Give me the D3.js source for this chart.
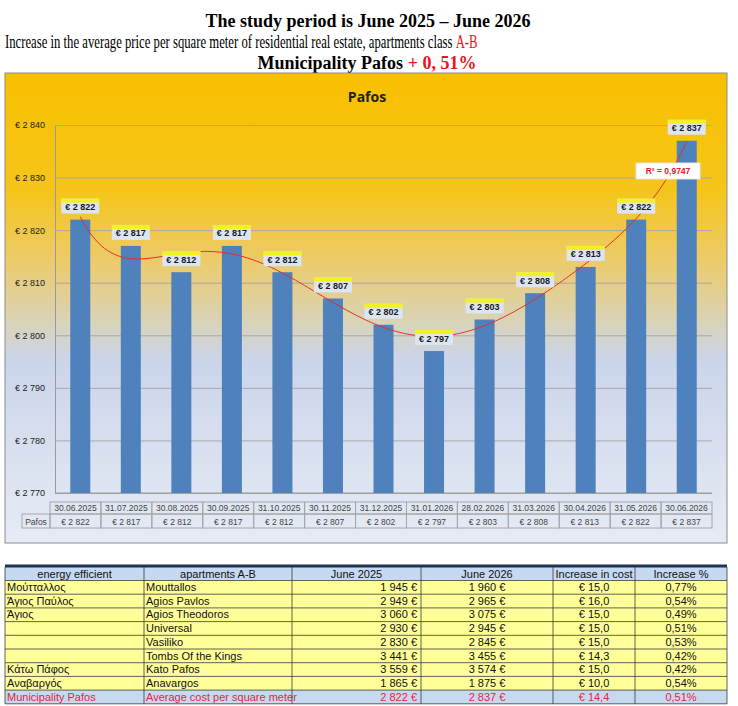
<!DOCTYPE html>
<html>
<head>
<meta charset="utf-8">
<script src="https://cdn.jsdelivr.net/npm/d3@7"></script>
<style>
  body { margin: 0; background: #fff; }
  svg { display: block; }
</style>
</head>
<body>
<div id="chart"></div>
<script>
// chart values
const dates = ["30.06.2025", "31.07.2025", "30.08.2025", "30.09.2025", "31.10.2025", "30.11.2025",
  "31.12.2025", "31.01.2026", "28.02.2026", "31.03.2026", "30.04.2026", "31.05.2026", "30.06.2026"];
const prices = [2822, 2817, 2812, 2817, 2812, 2807, 2802, 2797, 2803, 2808, 2813, 2822, 2837];
const yDomain = [2770, 2840];
const trendOrder = 6;
const rSquaredText = "R² = 0,9747";

// table values
const tableHeader = ["energy efficient", "apartments A-B", "June 2025", "June 2026", "Increase in cost", "Increase %"];
const areaGreek = ["Μούτταλλος", "Άγιος Παύλος", "Άγιος", "", "", "", "Κάτω Πάφος", "Αναβαργός", "Municipality Pafos"];
const areaLatin = ["Mouttallos", "Agios Pavlos", "Agios Theodoros", "Universal", "Vasiliko", "Tombs Of the Kings",
  "Kato Pafos", "Anavargos", "Average cost per square meter"];
const june2025 = [1945, 2949, 3060, 2930, 2830, 3441, 3559, 1865, 2822];
const june2026 = [1960, 2965, 3075, 2945, 2845, 3455, 3574, 1875, 2837];
const increaseCost = ["€ 15,0", "€ 16,0", "€ 15,0", "€ 15,0", "€ 15,0", "€ 14,3", "€ 15,0", "€ 10,0", "€ 14,4"];
const increasePct = ["0,77%", "0,54%", "0,49%", "0,51%", "0,53%", "0,42%", "0,42%", "0,54%", "0,51%"];

const W = 738, H = 706;
const sans = "'Liberation Sans', Arial, sans-serif";
const serif = "'Liberation Serif', 'Times New Roman', serif";
const thousands = v => d3.format(",")(v).replace(/,/g, " ");
const euro = v => "€ " + thousands(v);

let svg = d3.select("#chart").append("svg")
  .attr("width", W)
  .attr("height", H);

// ---- page titles
svg.append("text")
  .attr("x", 368).attr("y", 27)
  .attr("text-anchor", "middle")
  .style("font-family", serif).style("font-weight", "bold").style("font-size", "18px")
  .text("The study period is June 2025 – June 2026");

// second line is condensed in the original, so squeeze it horizontally to fit
let t2 = svg.append("text")
  .style("font-family", serif).style("font-size", "18px");
t2.append("tspan").text("Increase in the average price per square meter of residential real estate, apartments class ");
t2.append("tspan").attr("fill", "#e8141e").text("A-B");
const t2len = t2.node().getComputedTextLength();
t2.attr("transform", "translate(5,48) scale(" + (472 / t2len) + ",1)");

let t3 = svg.append("text")
  .attr("x", 367).attr("y", 69)
  .attr("text-anchor", "middle")
  .style("font-family", serif).style("font-weight", "bold").style("font-size", "18px");
t3.append("tspan").text("Municipality Pafos ");
t3.append("tspan").attr("fill", "#e8141e").text("+ 0, 51%");

// ---- chart panel with gradient
let defs = svg.append("defs");
let grad = defs.append("linearGradient").attr("id", "bg").attr("x1", 0).attr("y1", 0).attr("x2", 0).attr("y2", 1);
[["0%", "#f9c000"], ["25%", "#f5c51a"], ["40%", "#eccb6a"], ["53%", "#d9d3b8"], ["61%", "#cbd5ea"], ["100%", "#e6ebf5"]]
  .forEach(s => grad.append("stop").attr("offset", s[0]).attr("stop-color", s[1]));

svg.append("rect")
  .attr("x", 5).attr("y", 73).attr("width", 722).attr("height", 470)
  .attr("fill", "url(#bg)")
  .attr("stroke", "#8c8c8c").attr("stroke-width", 1);

svg.append("text")
  .attr("x", 367).attr("y", 102)
  .attr("text-anchor", "middle")
  .style("font-family", "'Open Sans', " + sans).style("font-weight", "bold").style("font-size", "14px")
  .attr("fill", "#222")
  .text("Pafos");

// scales
const plot = { left: 55, right: 712, top: 125, bottom: 493 };
let x = d3.scaleBand().domain(dates).range([plot.left, plot.right]);
let y = d3.scaleLinear().domain(yDomain).range([plot.bottom, plot.top]);
const barW = 20;

// gridlines
let g = svg.append("g");
g.append("g")
  .attr("transform", "translate(" + plot.left + ",0)")
  .call(d3.axisLeft(y).ticks(7).tickSize(-(plot.right - plot.left)).tickFormat(euro).tickPadding(10))
  .call(a => a.select(".domain").attr("stroke", "#9a9a9a"))
  .call(a => a.selectAll(".tick line").attr("stroke", "#a8a8a8"))
  .call(a => a.selectAll(".tick text").style("font-family", sans).style("font-size", "9px").attr("fill", "#222"));

g.append("line")
  .attr("x1", plot.left).attr("x2", plot.right)
  .attr("y1", plot.bottom).attr("y2", plot.bottom)
  .attr("stroke", "#9a9a9a");

// bars
g.selectAll(".bar")
  .data(prices)
  .enter().append("rect")
  .attr("class", "bar")
  .attr("x", (d, i) => x(dates[i]) + x.bandwidth() / 2 - barW / 2)
  .attr("y", d => y(d))
  .attr("width", barW)
  .attr("height", d => plot.bottom - y(d))
  .attr("fill", "#4f81bd");

// polynomial trend line (least squares)
function polyfit(xs, ys, deg) {
  const n = deg + 1;
  let A = [];
  for (let i = 0; i < n; i++) {
    A.push([]);
    for (let j = 0; j < n; j++) A[i].push(d3.sum(xs, v => Math.pow(v, i + j)));
    A[i].push(d3.sum(xs.map((v, k) => Math.pow(v, i) * ys[k])));
  }
  for (let c = 0; c < n; c++) {
    let p = c;
    for (let r = c + 1; r < n; r++) if (Math.abs(A[r][c]) > Math.abs(A[p][c])) p = r;
    [A[c], A[p]] = [A[p], A[c]];
    for (let r = 0; r < n; r++) {
      if (r === c) continue;
      const f = A[r][c] / A[c][c];
      for (let k = c; k <= n; k++) A[r][k] -= f * A[c][k];
    }
  }
  return A.map((row, i) => row[n] / row[i]);
}
const xs = prices.map((d, i) => (i - 6) / 6);
const coef = polyfit(xs, prices.map(d => d - 2800), trendOrder);
const poly = t => 2800 + coef.reduce((s, c, i) => s + c * Math.pow(t, i), 0);

let xi = d3.scaleLinear().domain([-1, 1])
  .range([x(dates[0]) + x.bandwidth() / 2, x(dates[dates.length - 1]) + x.bandwidth() / 2]);
let curve = d3.range(-1, 1.0001, 0.01);
g.append("path")
  .datum(curve)
  .attr("fill", "none")
  .attr("stroke", "#e0302a")
  .attr("stroke-width", 1)
  .attr("d", d3.line().x(t => xi(t)).y(t => y(poly(t))));

// data labels
let lab = g.selectAll(".lab")
  .data(prices)
  .enter().append("g")
  .attr("class", "lab")
  .attr("transform", (d, i) => "translate(" + (x(dates[i]) + x.bandwidth() / 2) + "," + (y(d) - 6) + ")");
lab.append("rect")
  .attr("x", -19).attr("y", -15).attr("width", 38).attr("height", 15)
  .attr("fill", "#dde5f2");
lab.append("rect")
  .attr("x", -19).attr("y", -15).attr("width", 38).attr("height", 4)
  .attr("fill", "#f2f21e");
lab.append("text")
  .attr("y", -3.5)
  .attr("text-anchor", "middle")
  .style("font-family", sans).style("font-weight", "bold").style("font-size", "9px")
  .attr("fill", "#1a1a1a")
  .text(euro);

// R² label
let r2g = g.append("g").attr("transform", "translate(668,171)");
r2g.append("rect").attr("x", -32).attr("y", -8).attr("width", 64).attr("height", 16)
  .attr("fill", "#fff").attr("stroke", "#e6e6e6");
r2g.append("text")
  .attr("y", 3)
  .attr("text-anchor", "middle")
  .style("font-family", sans).style("font-weight", "bold").style("font-size", "8.5px")
  .attr("fill", "#e0202a")
  .text(rSquaredText);

// data table under the chart
let tx = d3.scaleBand().domain(dates).range([50, 712]);
const dt = { top: 502, mid: 514, bottom: 528, labelLeft: 22 };
let dtab = svg.append("g").style("font-family", sans).style("font-size", "8.5px").attr("fill", "#444");
dtab.append("rect")
  .attr("x", dt.labelLeft).attr("y", dt.mid).attr("width", 50 - dt.labelLeft).attr("height", dt.bottom - dt.mid)
  .attr("fill", "none").attr("stroke", "#a6a6a6");
dtab.append("text").attr("x", 36).attr("y", dt.mid + 10.5).attr("text-anchor", "middle").text("Pafos");
dtab.selectAll(".dc")
  .data(dates)
  .enter().append("rect")
  .attr("x", d => tx(d)).attr("y", dt.top).attr("width", tx.bandwidth()).attr("height", dt.mid - dt.top)
  .attr("fill", "none").attr("stroke", "#a6a6a6");
dtab.selectAll(".vc")
  .data(dates)
  .enter().append("rect")
  .attr("x", d => tx(d)).attr("y", dt.mid).attr("width", tx.bandwidth()).attr("height", dt.bottom - dt.mid)
  .attr("fill", "none").attr("stroke", "#a6a6a6");
dtab.selectAll(".dt")
  .data(dates)
  .enter().append("text")
  .attr("x", d => tx(d) + tx.bandwidth() / 2).attr("y", dt.top + 9)
  .attr("text-anchor", "middle")
  .text(d => d);
dtab.selectAll(".vt")
  .data(prices)
  .enter().append("text")
  .attr("x", (d, i) => tx(dates[i]) + tx.bandwidth() / 2).attr("y", dt.mid + 10.5)
  .attr("text-anchor", "middle")
  .text(euro);

// ---- bottom table
const cols = [5, 144, 292, 421, 553, 635, 727];
const rowTop = 567, headH = 13.5, rowH = 13.7;
const rows = areaLatin.map((d, i) => [areaGreek[i], d, thousands(june2025[i]) + " €", thousands(june2026[i]) + " €", increaseCost[i], increasePct[i]]);
const align = ["start", "start", "end", "middle", "middle", "middle"];
let tb = svg.append("g").style("font-family", sans).style("font-size", "11px");

function cellX(c) {
  if (align[c] === "start") return cols[c] + 2;
  if (align[c] === "end") return cols[c + 1] - 4;
  return (cols[c] + cols[c + 1]) / 2;
}

tb.append("rect")
  .attr("x", cols[0]).attr("y", rowTop).attr("width", cols[6] - cols[0]).attr("height", headH)
  .attr("fill", "#c5d9f1");
tb.selectAll(".h")
  .data(tableHeader)
  .enter().append("text")
  .attr("x", (d, i) => (cols[i] + cols[i + 1]) / 2).attr("y", rowTop + 10.5)
  .attr("text-anchor", "middle").attr("fill", "#111")
  .text(d => d);

let tr = tb.selectAll(".row")
  .data(rows)
  .enter().append("g")
  .attr("transform", (d, i) => "translate(0," + (rowTop + headH + i * rowH) + ")");
tr.append("rect")
  .attr("x", cols[0]).attr("width", cols[6] - cols[0]).attr("height", rowH)
  .attr("fill", (d, i) => i === rows.length - 1 ? "#c5d9f1" : "#ffff99");
tr.selectAll("text")
  .data((d, i) => d.map(v => ({ v: v, last: i === rows.length - 1 })))
  .enter().append("text")
  .attr("x", (d, c) => cellX(c)).attr("y", 10.5)
  .attr("text-anchor", (d, c) => align[c])
  .attr("fill", d => d.last ? "#e8243c" : "#111")
  .text(d => d.v);

// grid lines of the table
const tableBottom = rowTop + headH + rows.length * rowH;
const hLines = [rowTop + headH].concat(rows.map((d, i) => rowTop + headH + (i + 1) * rowH));
tb.selectAll(".hl")
  .data(hLines)
  .enter().append("line")
  .attr("x1", cols[0]).attr("x2", cols[6]).attr("y1", d => d).attr("y2", d => d)
  .attr("stroke", "#3a3a3a").attr("stroke-width", 0.8);
tb.selectAll(".vl")
  .data(cols)
  .enter().append("line")
  .attr("x1", d => d).attr("x2", d => d).attr("y1", rowTop).attr("y2", tableBottom)
  .attr("stroke", "#3a3a3a").attr("stroke-width", 0.8);
tb.append("line")
  .attr("x1", cols[0]).attr("x2", cols[6]).attr("y1", rowTop - 1).attr("y2", rowTop - 1)
  .attr("stroke", "#1f3556").attr("stroke-width", 3);
</script>
</body>
</html>
